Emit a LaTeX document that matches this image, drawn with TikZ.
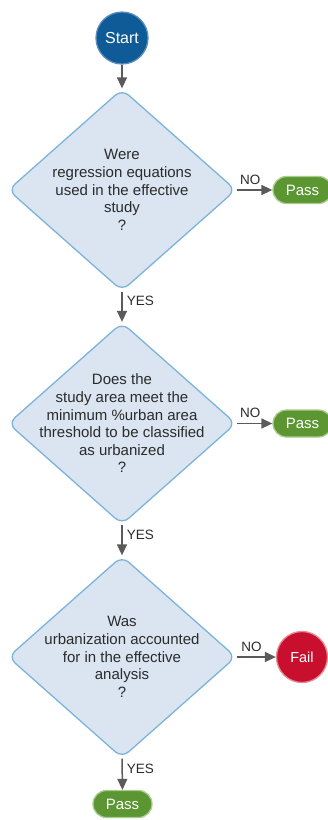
\documentclass[tikz,border=0pt]{standalone}
\usepackage{fontspec}
\setmainfont{Liberation Sans}
\usetikzlibrary{shapes.geometric,shapes.misc,arrows.meta}

\definecolor{startfill}{HTML}{0F5B97}
\definecolor{startline}{HTML}{5A8DBE}
\definecolor{qfill}{HTML}{DAE5F1}
\definecolor{qline}{HTML}{7DB3D9}
\definecolor{passfill}{HTML}{5C9632}
\definecolor{passline}{HTML}{A9CB8E}
\definecolor{failfill}{HTML}{C8102E}
\definecolor{failline}{HTML}{E48A95}
\definecolor{arrowgray}{HTML}{5A5A5A}
\definecolor{txt}{HTML}{2B2B2B}

\tikzset{
  question/.style={diamond, draw=qline, fill=qfill, line width=1.3pt,
    rounded corners=9pt, inner sep=0pt, minimum width=228pt, minimum height=202pt},
  qtext/.style={align=center, text=txt, font=\fontsize{15}{17.6}\selectfont, inner sep=0pt},
  startnode/.style={circle, draw=startline, fill=startfill, line width=1.3pt,
    minimum size=52pt, inner sep=0pt, text=white, font=\fontsize{16}{18}\selectfont},
  passnode/.style={rounded rectangle, draw=passline, fill=passfill, line width=1.3pt,
    minimum width=59pt, minimum height=27pt, inner sep=0pt, text=white,
    font=\fontsize{15}{17}\selectfont},
  failnode/.style={circle, draw=failline, fill=failfill, line width=1.3pt,
    minimum size=51pt, inner sep=0pt, text=white, font=\fontsize{14.5}{17}\selectfont},
  flow/.style={draw=arrowgray, line width=1.5pt,
    -{Triangle[length=11pt,width=10pt]}},
  lbl/.style={text=txt, font=\fontsize{13.5}{15}\selectfont, inner sep=0pt},
}

\begin{document}
\begin{tikzpicture}[x=1pt,y=1pt]
  \useasboundingbox (0,0) rectangle (327,-820);

  % start terminal
  \node[startnode] (start) at (122,-38) {Start};

  % decision diamonds
  \node[question] (d1) at (122,-190) {};
  \node[qtext] (t1) at (d1.center) {Were\\regression equations\\used in the effective\\study\\?};

  \node[question] (d2) at (122,-423.5) {};
  \node[qtext] (t2) at (d2.center) {Does the\\study area meet the\\minimum \%urban area\\threshold to be classified\\as urbanized\\?};

  \node[question] (d3) at (122,-657) {};
  \node[qtext] (t3) at (d3.center) {Was\\urbanization accounted\\for in the effective\\analysis\\?};

  % outcomes
  \node[passnode] (p1) at (302.5,-190) {Pass};
  \node[passnode] (p2) at (302.5,-423.5) {Pass};
  \node[failnode] (f3) at (302,-657) {Fail};
  \node[passnode] (p4) at (122.5,-804) {Pass};

  % connectors
  \draw[flow] (start.south) -- (d1.north);
  \draw[flow] (d1.south) -- node[lbl, anchor=west, pos=0.32, xshift=4pt] (y1) {YES} (d2.north);
  \draw[flow] (d2.south) -- node[lbl, anchor=west, pos=0.32, xshift=4pt] (y2) {YES} (d3.north);
  \draw[flow] (d3.south) -- node[lbl, anchor=west, pos=0.32, xshift=4pt] (y3) {YES} (p4.north);

  \draw[flow] (d1.east) -- node[lbl, anchor=south, pos=0.38, yshift=5pt] (n1) {NO} (p1.west);
  \draw[flow] (d2.east) -- node[lbl, anchor=south, pos=0.38, yshift=5pt] (n2) {NO} (p2.west);
  \draw[flow] (d3.east) -- node[lbl, anchor=south, pos=0.38, yshift=5pt] (n3) {NO} (f3.west);
\end{tikzpicture}
\end{document}
